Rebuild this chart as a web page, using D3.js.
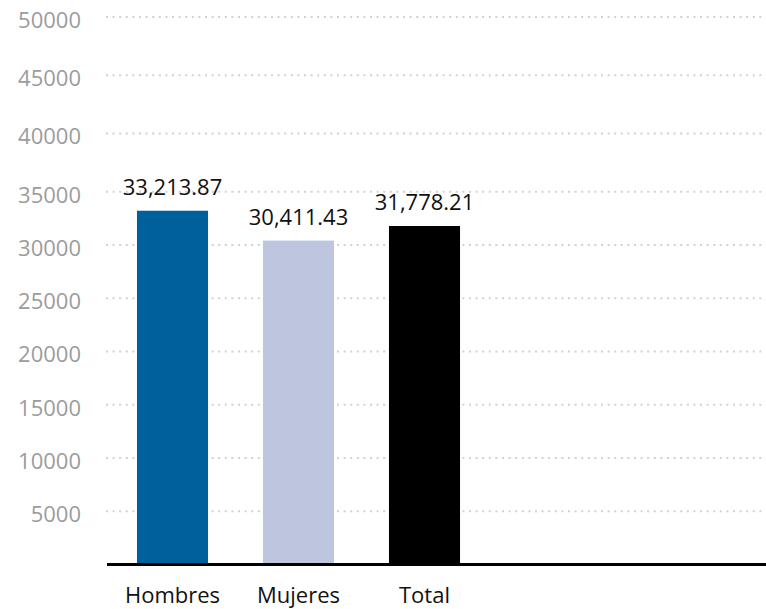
<!DOCTYPE html>
<html>
<head>
<meta charset="utf-8">
<script src="https://cdn.jsdelivr.net/npm/d3@7"></script>
<style>
  body { margin: 0; background: #fff; }
  svg { display: block; font-family: "Open Sans", "Noto Sans", sans-serif; }
</style>
</head>
<body>
<svg id="chart"></svg>
<script>
var categories = ['Hombres', 'Mujeres', 'Total'];
var values = [33213.87, 30411.43, 31778.21];
var colors = ['#00609c', '#bec6df', '#000000'];
var yTicks = [5000, 10000, 15000, 20000, 25000, 30000, 35000, 40000, 45000, 50000];

var width = 766;
var height = 609;

var svg = d3.select('#chart')
  .attr('width', width)
  .attr('height', height);

// the picture's grid is not evenly spaced at the top, so the scale has a knee
var y = d3.scaleLinear()
  .domain([0, 35000, 50000])
  .range([564.5, 191.7, 17]);

var x = d3.scaleBand()
  .domain(categories)
  .range([109.5, 487.5])
  .paddingInner(0.436)
  .paddingOuter(0.218);

var fmt = d3.format(',.2f');

// dotted grid
svg.append('g')
  .selectAll('line')
  .data(yTicks)
  .join('line')
    .attr('x1', 106)
    .attr('x2', width)
    .attr('y1', d => y(d))
    .attr('y2', d => y(d))
    .attr('stroke', '#d2d2d2')
    .attr('stroke-width', 2)
    .attr('stroke-dasharray', '2 4.6');

svg.append('g')
  .selectAll('text')
  .data(yTicks)
  .join('text')
    .attr('x', 81)
    .attr('y', d => y(d) + 11)
    .attr('text-anchor', 'end')
    .attr('fill', '#9c9c9c')
    .style('font-size', '22px')
    .text(d => d);

// bars
svg.append('g')
  .selectAll('rect')
  .data(values)
  .join('rect')
    .attr('x', (d, i) => x(categories[i]))
    .attr('width', x.bandwidth())
    .attr('y', d => y(d))
    .attr('height', d => y(0) - y(d))
    .attr('fill', (d, i) => colors[i]);

svg.append('g')
  .selectAll('text')
  .data(values)
  .join('text')
    .attr('x', (d, i) => x(categories[i]) + x.bandwidth() / 2)
    .attr('y', d => y(d) - 16)
    .attr('text-anchor', 'middle')
    .attr('fill', '#111')
    .style('font-size', '22px')
    .text(d => fmt(d));

// baseline
svg.append('line')
  .attr('x1', 107)
  .attr('x2', width)
  .attr('y1', y(0))
  .attr('y2', y(0))
  .attr('stroke', '#000')
  .attr('stroke-width', 3);

svg.append('g')
  .selectAll('text')
  .data(categories)
  .join('text')
    .attr('x', d => x(d) + x.bandwidth() / 2)
    .attr('y', 603)
    .attr('text-anchor', 'middle')
    .attr('fill', '#111')
    .style('font-size', '22px')
    .text(d => d);
</script>
</body>
</html>
